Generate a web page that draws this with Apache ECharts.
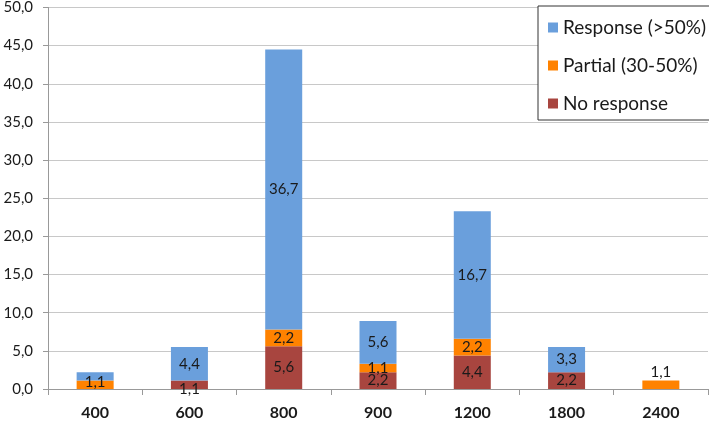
<!DOCTYPE html>
<html><head><meta charset="utf-8">
<script src="https://cdn.jsdelivr.net/npm/echarts@6/dist/echarts.min.js"></script>
<style>html,body{margin:0;padding:0;background:#fff}#c{width:709px;height:423px}</style>
</head><body><div id="c"></div>
<script>
var categories = ['400','600','800','900','1200','1800','2400'];
var noResponse = [0, 1.1, 5.6, 2.2, 4.4, 2.2, 0];
var partial = [1.1, 0, 2.2, 1.1, 2.2, 0, 1.1];
var response = [1.1, 4.4, 36.7, 5.6, 16.7, 3.3, 0];
var seriesNames = ['No response', 'Partial (30-50%)', 'Response (>50%)'];
var colors = ['#A8453F', '#FF8200', '#6A9FDC'];
var FONT = 'Lato';

function fmt(v){ return v.toFixed(1).replace('.', ','); }
// label tweaks mimicking the original's label placement on thin segments
var labelTweaks = {
  'No response': {1: {offset: [0, 4]}},
  'Partial (30-50%)': {0: {offset: [0, -3]}, 6: {position: 'top', distance: 1}},
  'Response (>50%)': {0: {show: false}}
};
function mk(name, data, color){
  var tw = labelTweaks[name] || {};
  return {
    name: name, type: 'bar', stack: 'a', barWidth: 37,
    data: data.map(function(v, i){
      var d = {value: v};
      if (tw[i]) d.label = tw[i];
      return d;
    }),
    itemStyle: {color: color},
    label: {show: true, position: 'inside', color: '#1a1a1a', fontFamily: FONT, fontSize: 15,
      formatter: function(p){ return p.value ? fmt(p.value) : ''; }},
    emphasis: {disabled: true}
  };
}
var chart = echarts.init(document.getElementById('c'));
chart.setOption({
  animation: false,
  grid: {left: 48, right: 1, top: 5, bottom: 34},
  legend: {
    orient: 'vertical', left: 538, top: 6,
    data: [seriesNames[2], seriesNames[1], seriesNames[0]],
    icon: 'rect', itemWidth: 10, itemHeight: 10, itemGap: 19, itemStyle: {borderWidth: 0},
    padding: [12, 9, 7, 10],
    borderColor: '#333', borderWidth: 1, backgroundColor: '#fff',
    textStyle: {fontFamily: FONT, fontSize: 19, color: '#1a1a1a', lineHeight: 19}
  },
  xAxis: {
    type: 'category', data: categories,
    axisLine: {lineStyle: {color: '#999'}},
    axisTick: {show: true, length: 6, lineStyle: {color: '#999'}},
    axisLabel: {fontFamily: FONT, fontSize: 16, fontWeight: 'bold', color: '#1a1a1a', margin: 16}
  },
  yAxis: {
    type: 'value', min: 0, max: 50, interval: 5,
    axisLine: {show: true, lineStyle: {color: '#999'}},
    axisTick: {show: true, length: 5, lineStyle: {color: '#999'}},
    splitLine: {lineStyle: {color: '#c8c8c8'}},
    axisLabel: {fontFamily: FONT, fontSize: 15, color: '#1a1a1a', margin: 15, formatter: function(v){ return fmt(v); }}
  },
  series: [mk(seriesNames[0], noResponse, colors[0]), mk(seriesNames[1], partial, colors[1]), mk(seriesNames[2], response, colors[2])]
});
</script></body></html>
